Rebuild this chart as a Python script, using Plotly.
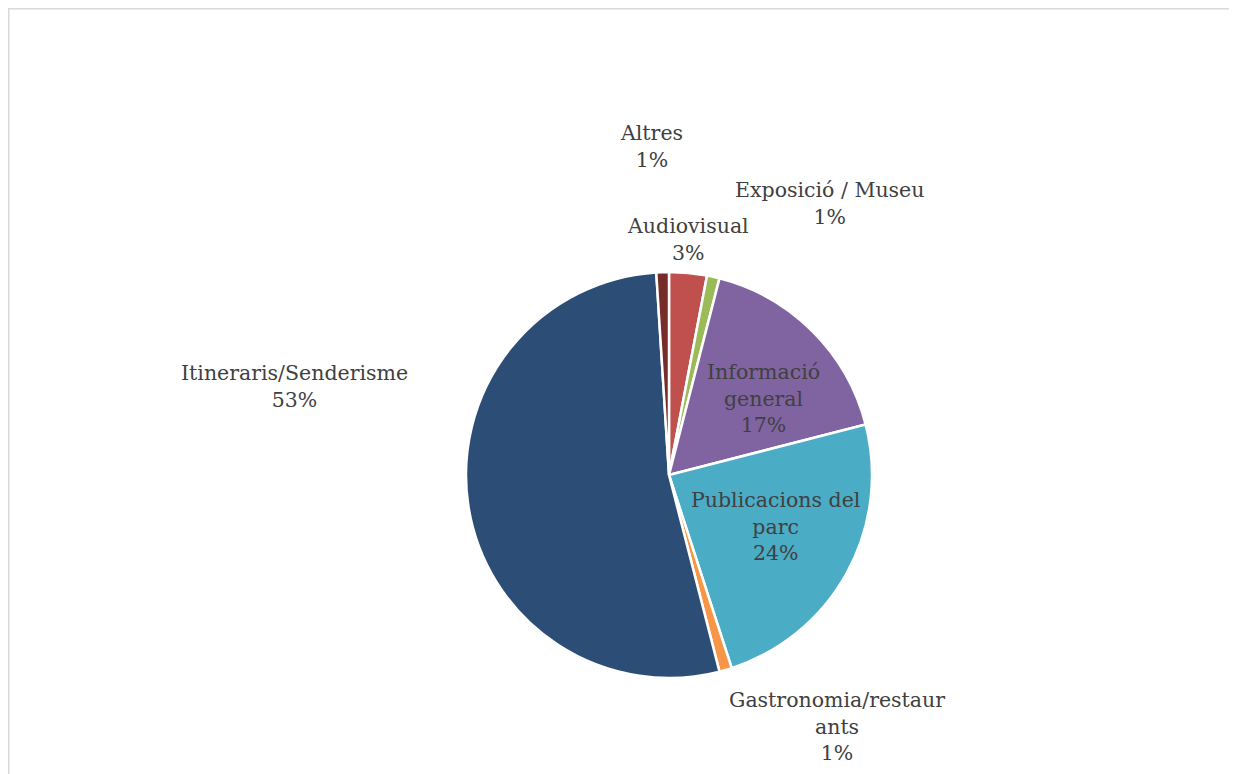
import plotly.graph_objects as go

labels = ["Audiovisual", "Exposició / Museu", "Informació general",
          "Publicacions del parc", "Gastronomia/restaurants",
          "Itineraris/Senderisme", "Altres"]
values = [3, 1, 17, 24, 1, 53, 1]
colors = ["#C0504D", "#9BBB59", "#8064A2", "#4BACC6", "#F79646",
          "#2C4D75", "#772C2A"]
# label text as shown (with Excel's wrapping)
label_text = ["Audiovisual", "Exposició / Museu", "Informació<br>general",
              "Publicacions del<br>parc", "Gastronomia/restaur<br>ants",
              "Itineraris/Senderisme", "Altres"]

W, H = 1229, 766
OFF = 8  # page body margin
# label block centres in pixels (screen coords)
label_pos = [(688, 239), (829, 203), (763, 398), (775, 526), (837, 726),
             (294, 386), (651, 147)]

fig = go.Figure()
cx, cy, r = 669 - OFF, 475 - OFF, 203
fig.add_trace(go.Pie(
    labels=labels, values=values, sort=False, direction="clockwise",
    rotation=0,
    marker=dict(colors=colors, line=dict(color="white", width=2.5)),
    textinfo="none", hoverinfo="label+percent", showlegend=False,
    domain=dict(x=[(cx - r) / W, (cx + r) / W],
                y=[1 - (cy + r) / H, 1 - (cy - r) / H]),
))

total = sum(values)
for t, v, (px, py) in zip(label_text, values, label_pos):
    pct = round(100 * v / total)
    fig.add_annotation(
        x=(px - OFF) / W, y=1 - (py - OFF) / H, xref="paper", yref="paper",
        text=f"{t}<br>{pct}%", showarrow=False,
        xanchor="center", yanchor="middle", align="center",
        font=dict(family="DejaVu Serif", size=20.5, color="#404040"),
    )

fig.add_shape(type="rect", xref="paper", yref="paper",
              x0=0.75 / W, x1=1.05, y0=-0.05, y1=1 - 0.75 / H,
              line=dict(color="#D9D9D9", width=1.5))

fig.update_layout(width=W, height=H, margin=dict(l=0, r=0, t=0, b=0),
                  paper_bgcolor="white", plot_bgcolor="white")
fig.write_html("out.html")
